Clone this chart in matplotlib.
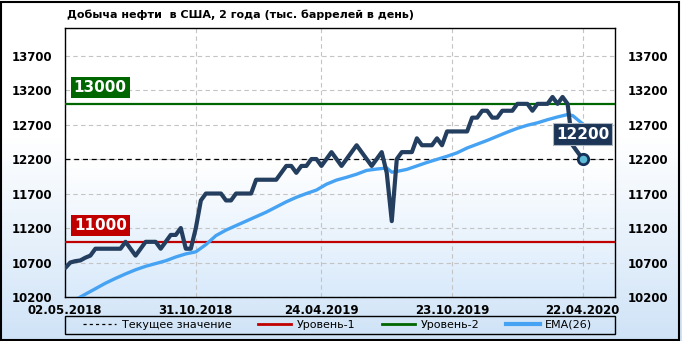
import matplotlib
matplotlib.use('Agg')
import matplotlib.pyplot as plt
import matplotlib.transforms as mtransforms
from matplotlib.colors import LinearSegmentedColormap
from matplotlib.patches import Rectangle
from matplotlib.lines import Line2D
import numpy as np
import pandas as pd

# weekly US crude production, thousand bbl/day (02.05.2018 .. 22.04.2020)
start_date = '2018-05-02'
production = [
    10620, 10700, 10720, 10730, 10770, 10800, 10900, 10900, 10900, 10900,
    10900, 10900, 11000, 10900, 10800, 10900, 11000, 11000, 11000, 10900,
    11000, 11100, 11100, 11200, 10900, 10900, 11200, 11600, 11700, 11700,
    11700, 11700, 11600, 11600, 11700, 11700, 11700, 11700, 11900, 11900,
    11900, 11900, 11900, 12000, 12100, 12100, 12000, 12100, 12100, 12200,
    12200, 12100, 12200, 12300, 12200, 12100, 12200, 12300, 12400, 12300,
    12200, 12100, 12200, 12300, 12000, 11300, 12200, 12300, 12300, 12300,
    12500, 12400, 12400, 12400, 12500, 12400, 12600, 12600, 12600, 12600,
    12600, 12800, 12800, 12900, 12900, 12800, 12800, 12900, 12900, 12900,
    13000, 13000, 13000, 12900, 13000, 13000, 13000, 13100, 13000, 13100,
    13000, 12400, 12300, 12200,
]

# EMA(26) at these week numbers
ema_weeks = [0, 2, 4, 6, 8, 10, 12, 14, 16, 18, 20, 22, 24, 26, 28, 30, 32,
             34, 36, 38, 40, 42, 44, 46, 48, 50, 52, 54, 56, 58, 60, 62, 64,
             65, 66, 68, 70, 72, 74, 76, 78, 80, 82, 84, 86, 88, 90, 92, 94,
             96, 98, 100, 101, 102, 103]
ema_values = [10070, 10160, 10240, 10320, 10400, 10470, 10535, 10595, 10645,
              10685, 10725, 10780, 10825, 10855, 10960, 11090, 11170, 11235,
              11300, 11365, 11430, 11505, 11580, 11645, 11700, 11750, 11835,
              11895, 11935, 11980, 12035, 12055, 12070, 12010, 12020, 12050,
              12100, 12150, 12195, 12240, 12290, 12360, 12415, 12470, 12530,
              12590, 12645, 12690, 12725, 12770, 12810, 12845, 12830, 12770,
              12710]

level_1 = 11000
level_2 = 13000
y_ticks = [10200, 10700, 11200, 11700, 12200, 12700, 13200, 13700]
x_tick_labels = ['02.05.2018', '31.10.2018', '24.04.2019', '23.10.2019', '22.04.2020']

title = 'Добыча нефти  в США, 2 года (тыс. баррелей в день)'
legend_labels = ['Текущее значение', 'Уровень-1', 'Уровень-2', 'EMA(26)']

dates = pd.date_range(start_date, periods=len(production), freq='7D')
ema_dates = dates[ema_weeks]
current = production[-1]

dark = '#233e5f'
ema_color = '#46a2f2'
red = '#c00000'
green = '#006600'
bg_blue = '#cfe3f7'

plt.rcParams['font.family'] = 'DejaVu Sans'

fig = plt.figure(figsize=(6.82, 3.41), dpi=100)

# background gradient for the whole picture
grad_cmap = LinearSegmentedColormap.from_list('bg', [(0, 'white'), (0.4, 'white'), (1, bg_blue)])
bg_ax = fig.add_axes([0, 0, 1, 1], zorder=-10)
bg_ax.imshow(np.linspace(0, 1, 256).reshape(-1, 1), aspect='auto', cmap=grad_cmap,
             extent=[0, 1, 0, 1], origin='upper')
bg_ax.set_axis_off()

ax = fig.add_axes([0.0946, 0.129, 0.8071, 0.789])
ax.set_facecolor('none')
plot_cmap = LinearSegmentedColormap.from_list('pl', [(0, 'white'), (0.5, 'white'), (1, '#d9eafb')])
ax.imshow(np.linspace(0, 1, 256).reshape(-1, 1), aspect='auto', cmap=plot_cmap,
          extent=[0, 1, 0, 1], origin='upper', transform=ax.transAxes, zorder=0)

ax.set_ylim(10200, 14100)
ax.set_xlim(dates[0] - pd.Timedelta(days=1), dates[-1] + pd.Timedelta(days=45))
ax.set_yticks(y_ticks)
tick_dates = pd.to_datetime(x_tick_labels, format='%d.%m.%Y')
ax.set_xticks(tick_dates)
ax.set_xticklabels(x_tick_labels)

ax.grid(True, color='#c4c4c4', linestyle=(0, (4, 3)), linewidth=0.8, zorder=1)
ax.tick_params(length=0, labelsize=8.5, labelright=True, pad=9)
ax.tick_params(axis='x', pad=5)
for lab in ax.get_xticklabels() + ax.get_yticklabels():
    lab.set_fontweight('bold')
for t in ax.yaxis.get_major_ticks():
    t.label2.set_fontweight('bold')
for s in ax.spines.values():
    s.set_linewidth(1)
    s.set_color('black')

# levels
ax.axhline(level_1, color=red, linewidth=1.6, zorder=3)
ax.axhline(level_2, color=green, linewidth=1.6, zorder=3)
ax.axhline(current, color='black', linewidth=0.9, linestyle=(0, (4, 3)), zorder=3)

# series
ax.plot(ema_dates, ema_values, color=ema_color, linewidth=2.4, zorder=4,
        solid_capstyle='round', solid_joinstyle='round')
ax.plot(dates, production, color=dark, linewidth=3.0, zorder=5,
        solid_capstyle='round', solid_joinstyle='round')
ax.plot(dates[-1], current, 'o', markersize=7.5, markerfacecolor='#5fbcd8',
        markeredgecolor='#17325a', markeredgewidth=2, zorder=6)

blend = mtransforms.blended_transform_factory(ax.transAxes, ax.transData)
for lvl, col in [(level_2, green), (level_1, red)]:
    ax.annotate(f'{lvl}', xy=(0.065, lvl), xycoords=blend, xytext=(0, 6.5),
                textcoords='offset points', ha='center', va='bottom',
                fontsize=11, fontweight='bold', color='white', zorder=7,
                bbox=dict(boxstyle='square,pad=0.2', facecolor=col, edgecolor='none'))

ax.annotate(f'{current}', xy=(dates[-1], current), xytext=(0, 18),
            textcoords='offset points', ha='center', va='center',
            fontsize=11, fontweight='bold', color='white', zorder=7,
            bbox=dict(boxstyle='square,pad=0.2', facecolor='#1c3557', edgecolor='#b0b8c4', linewidth=0.8))

fig.text(0.098, 0.957, title, fontsize=8, fontweight='bold', ha='left', va='center')

# legend: full-width frame, entries centred inside
fig.patches.append(Rectangle((0.0946, 0.0205), 0.8071, 0.0528, transform=fig.transFigure,
                             fill=False, edgecolor='black', linewidth=1))
handles = [
    Line2D([], [], color='black', linewidth=0.9, linestyle=(0, (2.5, 2.5))),
    Line2D([], [], color=red, linewidth=2),
    Line2D([], [], color=green, linewidth=2),
    Line2D([], [], color=ema_color, linewidth=3),
]
fig.legend(handles, legend_labels, loc='center', bbox_to_anchor=(0.495, 0.047),
           ncol=4, fontsize=8, frameon=False, borderpad=0.1, handlelength=3.0,
           handletextpad=0.5, columnspacing=2.4)

fig.patches.append(Rectangle((0.002, 0.004), 0.994, 0.99, transform=fig.transFigure,
                             fill=False, edgecolor='black', linewidth=1.5))

fig.savefig('out.png', dpi=100)
